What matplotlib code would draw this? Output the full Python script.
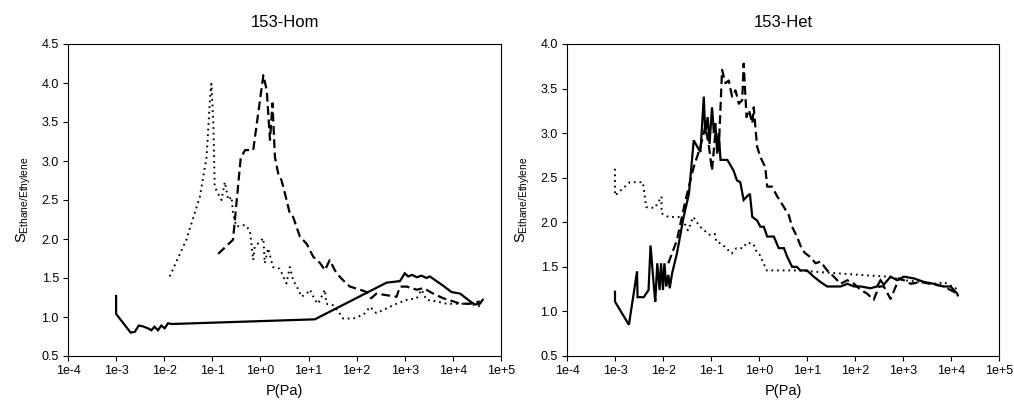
import matplotlib
matplotlib.use('Agg')
import matplotlib.pyplot as plt
from matplotlib.ticker import FixedLocator, FixedFormatter, NullLocator

plt.rcParams['font.family'] = ['Liberation Sans', 'DejaVu Sans']

# ---- 153-Hom ----
hom_solid_p = [1e-3, 1e-3, 2.0e-3, 2.45e-3, 2.95e-3, 3.6e-3, 4.6e-3, 5.4e-3, 6.3e-3, 7.4e-3,
               8.7e-3, 1.02e-2, 1.2e-2, 1.41e-2, 13.5, 417, 794, 1000, 1175, 1413, 1778,
               2239, 2818, 3311, 6310, 9333, 14125, 22900, 28840, 36300, 41700]
hom_solid_s = [1.27, 1.04, 0.80, 0.81, 0.89, 0.88, 0.855, 0.83, 0.875, 0.83,
               0.89, 0.855, 0.92, 0.91, 0.97, 1.44, 1.46, 1.56, 1.52, 1.54, 1.51,
               1.53, 1.50, 1.52, 1.40, 1.32, 1.30, 1.20, 1.16, 1.17, 1.22]

hom_dash_p = [0.132, 0.269, 0.389, 0.479, 0.708, 1.15, 1.35, 1.58, 1.78, 2.0, 2.34, 2.75,
              3.24, 4.07, 4.79, 6.6, 9.1, 12.6, 17.4, 21.9, 27.5, 38, 52.5, 72.4, 117,
              162, 200, 257, 417, 676, 794, 1096, 1778, 2455, 3890, 6310, 10230, 14125,
              22900, 36300]
hom_dash_s = [1.81, 1.99, 3.04, 3.14, 3.14, 4.10, 3.91, 3.27, 3.74, 3.05, 2.84, 2.75,
              2.58, 2.33, 2.28, 2.03, 1.94, 1.77, 1.69, 1.60, 1.73, 1.56, 1.47, 1.39, 1.35,
              1.32, 1.24, 1.30, 1.28, 1.26, 1.39, 1.39, 1.35, 1.37, 1.30, 1.24, 1.20, 1.17,
              1.17, 1.20]

hom_dot_p = [0.0130, 0.0288, 0.055, 0.0759, 0.0891, 0.0955, 0.105, 0.112, 0.132, 0.155,
             0.182, 0.214, 0.251, 0.269, 0.316, 0.479, 0.603, 0.708, 0.759, 1.15, 1.23,
             1.45, 1.82, 2.51, 3.47, 4.07, 4.79, 6.17, 7.08, 9.12, 10.7, 13.5, 15.8, 21.9,
             23.4, 32.4, 41.7, 52.5, 85, 138, 191, 257, 417, 676, 1096, 1778, 2239, 2818,
             4571, 7413, 12020, 22900, 39800]
hom_dot_s = [1.52, 1.99, 2.54, 3.05, 3.78, 3.99, 3.48, 2.67, 2.58, 2.50,
             2.73, 2.50, 2.54, 2.33, 2.16, 2.18, 2.11, 1.73, 1.90, 2.01, 1.69,
             1.88, 1.64, 1.62, 1.43, 1.64, 1.47, 1.35, 1.26, 1.30, 1.35, 1.22, 1.17, 1.35,
             1.17, 1.15, 1.07, 0.98, 0.98, 1.03, 1.13, 1.05, 1.11, 1.17, 1.22, 1.24, 1.35, 1.22,
             1.20, 1.17, 1.17, 1.17, 1.13]

# ---- 153-Het ----
het_solid_p = [1e-3, 1e-3, 1.95e-3, 2.88e-3, 2.95e-3, 3.98e-3, 5.0e-3, 5.5e-3, 6.46e-3, 6.9e-3,
               7.6e-3, 8.5e-3, 9.1e-3, 1.0e-2, 1.07e-2, 1.17e-2, 1.29e-2, 1.38e-2, 1.55e-2,
               1.95e-2, 2.69e-2, 3.47e-2, 4.37e-2, 5.13e-2, 6.03e-2, 7.08e-2, 7.59e-2, 8.51e-2,
               9.33e-2, 0.105, 0.115, 0.123, 0.135, 0.145, 0.158, 0.219, 0.295, 0.347, 0.407,
               0.479, 0.562, 0.646, 0.724, 0.912, 1.07, 1.26, 1.48, 2.04, 2.57, 3.31, 3.89,
               4.9, 6.17, 7.24, 10, 13.8, 19.1, 26.3, 36.3, 50.1, 69.2, 95.5, 132, 209, 288,
               339, 398, 550, 759, 1047, 1698, 2754, 4365, 7079, 9772, 13490, 13800]
het_solid_s = [1.22, 1.11, 0.85, 1.45, 1.16, 1.16, 1.24, 1.74, 1.28, 1.11,
               1.54, 1.24, 1.54, 1.24, 1.54, 1.28, 1.41, 1.26, 1.43,
               1.65, 2.06, 2.32, 2.92, 2.85, 2.79, 3.41, 3.00, 3.18,
               2.88, 3.29, 3.00, 3.11, 2.77, 3.00, 2.70, 2.70, 2.58, 2.47, 2.45,
               2.25, 2.29, 2.32, 2.06, 2.02, 1.95, 1.95, 1.84, 1.84, 1.71, 1.71, 1.61,
               1.50, 1.50, 1.46, 1.46, 1.39, 1.33, 1.28, 1.28, 1.28, 1.31, 1.28, 1.28, 1.26, 1.28,
               1.35, 1.30, 1.39, 1.35, 1.39, 1.37, 1.33, 1.31, 1.28, 1.28, 1.20, 1.18]

het_dash_p = [1.29e-2, 1.95e-2, 2.95e-2, 4.37e-2, 6.03e-2, 7.59e-2, 8.91e-2, 0.105, 0.123,
              0.145, 0.170, 0.200, 0.234, 0.275, 0.324, 0.380, 0.447, 0.479, 0.550, 0.617,
              0.724, 0.776, 0.912, 1.07, 1.35, 1.48, 1.86, 2.40, 3.31, 4.17, 4.90, 6.17,
              7.94, 9.33, 11.7, 15.1, 19.1, 26.3, 36.3, 50.1, 69.2, 95.5, 132, 178, 245,
              316, 398, 550, 708, 813, 1047, 1445, 2344, 3715, 7079, 13490]
het_dash_s = [1.54, 1.80, 2.25, 2.62, 2.85, 3.07, 2.88, 2.58, 3.00,
              2.81, 3.71, 3.56, 3.59, 3.41, 3.48, 3.33, 3.37, 3.78, 3.18, 3.26,
              3.11, 3.29, 2.85, 2.73, 2.62, 2.40, 2.40, 2.29, 2.17, 2.08, 1.95, 1.84,
              1.69, 1.65, 1.61, 1.54, 1.56, 1.46, 1.39, 1.31, 1.35, 1.31, 1.24, 1.20, 1.13,
              1.28, 1.28, 1.14, 1.28, 1.37, 1.35, 1.31, 1.33, 1.31, 1.28, 1.20]

het_dot_p = [1e-3, 1e-3, 2.04e-3, 3.8e-3, 4.47e-3, 6.76e-3, 9.33e-3, 9.33e-3, 1.29e-2,
             2.4e-2, 3.31e-2, 4.27e-2, 5.89e-2, 9.33e-2, 0.120, 0.129, 0.166, 0.269, 0.339,
             0.468, 0.550, 0.759, 0.891, 1.05, 1.45, 6.03, 126, 468, 1047, 2344, 5129,
             7079, 13490]
het_dot_s = [2.60, 2.30, 2.45, 2.45, 2.17, 2.16, 2.29, 2.10, 2.06,
             2.06, 1.91, 2.06, 1.95, 1.86, 1.87, 1.78, 1.76, 1.65, 1.71,
             1.71, 1.77, 1.76, 1.67, 1.63, 1.46, 1.46, 1.41, 1.39, 1.35, 1.33, 1.31,
             1.33, 1.25]

x_ticks = [1e-4, 1e-3, 1e-2, 1e-1, 1e0, 1e1, 1e2, 1e3, 1e4, 1e5]
x_labels = ['1e-4', '1e-3', '1e-2', '1e-1', '1e+0', '1e+1', '1e+2', '1e+3', '1e+4', '1e+5']

fig = plt.figure(figsize=(10.14, 4.07), dpi=100)
ax1 = fig.add_axes([68 / 1014, 1 - 356 / 407, 433 / 1014, 312 / 407])
ax2 = fig.add_axes([567 / 1014, 1 - 356 / 407, 432 / 1014, 312 / 407])


def style_axis(ax, title, ymax):
    ax.set_xscale('log')
    ax.set_xlim(1e-4, 1e5)
    ax.set_ylim(0.5, ymax)
    ax.xaxis.set_major_locator(FixedLocator(x_ticks))
    ax.xaxis.set_major_formatter(FixedFormatter(x_labels))
    ax.xaxis.set_minor_locator(NullLocator())
    yt = [0.5 + 0.5 * i for i in range(int(round((ymax - 0.5) / 0.5)) + 1)]
    ax.set_yticks(yt)
    ax.set_yticklabels(['%.1f' % v for v in yt])
    ax.tick_params(direction='out', length=3.6, width=0.8, labelsize=9, pad=3)
    for s in ax.spines.values():
        s.set_linewidth(0.8)
    ax.set_title(title, fontsize=12, pad=12)
    ax.set_xlabel('P(Pa)', fontsize=10.5, labelpad=5)
    ax.set_ylabel(r'S$_{\mathregular{Ethane/Ethylene}}$', fontsize=10.5, labelpad=6)


def draw(ax, sp, ss, dp, ds, op, os_):
    ax.plot(sp, ss, color='black', lw=1.6, solid_joinstyle='miter')
    ax.plot(dp, ds, color='black', lw=1.6, dashes=(4, 2))
    ax.plot(op, os_, color='black', lw=1.4, dashes=(0.9, 2.0))


draw(ax1, hom_solid_p, hom_solid_s, hom_dash_p, hom_dash_s, hom_dot_p, hom_dot_s)
style_axis(ax1, '153-Hom', 4.5)
draw(ax2, het_solid_p, het_solid_s, het_dash_p, het_dash_s, het_dot_p, het_dot_s)
style_axis(ax2, '153-Het', 4.0)

fig.savefig('out.png', dpi=100)
